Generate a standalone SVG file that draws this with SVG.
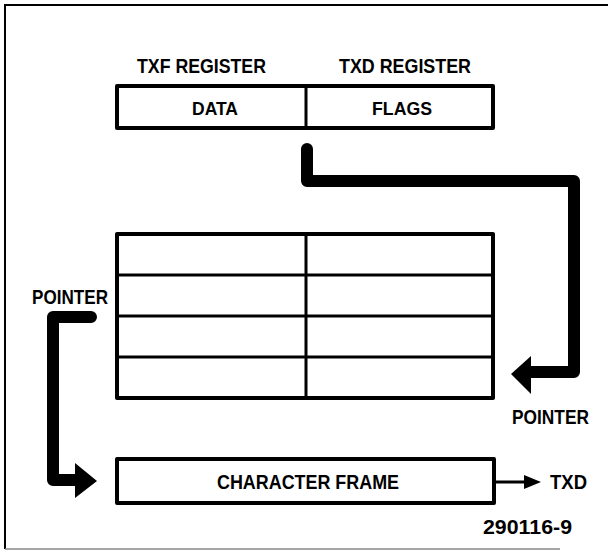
<svg xmlns="http://www.w3.org/2000/svg" width="608" height="551" viewBox="0 0 608 551">
<style>
.t{font-family:"Liberation Sans",Arial,sans-serif;font-weight:bold;font-size:20px;fill:#000}
.box{fill:#fff;stroke:#000;stroke-width:4;stroke-linejoin:round}
.div{stroke:#000;stroke-width:3;fill:none}
.thick{fill:none;stroke:#000;stroke-width:12;stroke-linejoin:round;stroke-linecap:round}
</style>
<rect width="608" height="551" fill="#fff"/>
<g id="frame" fill="none">
<path d="M5,549 V5 H608" stroke="#000" stroke-width="2"/>
<path d="M5,549 H560" stroke="#888" stroke-width="1.5"/>
</g>
<g id="registers">
<text class="t" x="137" y="73" textLength="129" lengthAdjust="spacingAndGlyphs">TXF REGISTER</text>
<text class="t" x="339" y="73" textLength="132" lengthAdjust="spacingAndGlyphs">TXD REGISTER</text>
<rect class="box" x="117" y="86" width="376" height="42"/>
<line class="div" x1="306" y1="86" x2="306" y2="128"/>
<text class="t" x="192" y="115" textLength="46" lengthAdjust="spacingAndGlyphs" style="font-size:18px">DATA</text>
<text class="t" x="372" y="115" textLength="60" lengthAdjust="spacingAndGlyphs" style="font-size:18px">FLAGS</text>
</g>
<g id="buffer">
<rect class="box" x="117" y="234" width="376" height="164"/>
<line class="div" x1="306" y1="234" x2="306" y2="398"/>
<line class="div" x1="117" y1="275" x2="493" y2="275"/>
<line class="div" x1="117" y1="316" x2="493" y2="316"/>
<line class="div" x1="117" y1="357" x2="493" y2="357"/>
</g>
<g id="charframe">
<rect class="box" x="117" y="459" width="377" height="44"/>
<text class="t" x="217" y="489" textLength="182" lengthAdjust="spacingAndGlyphs">CHARACTER FRAME</text>
</g>
<g id="labels">
<text class="t" x="32" y="304" textLength="76" lengthAdjust="spacingAndGlyphs">POINTER</text>
<text class="t" x="512" y="424" textLength="77" lengthAdjust="spacingAndGlyphs">POINTER</text>
<text class="t" x="550" y="489" textLength="37" lengthAdjust="spacingAndGlyphs">TXD</text>
<text class="t" x="483" y="534" textLength="89" lengthAdjust="spacingAndGlyphs">290116-9</text>
</g>
<g id="connectors">
<path class="thick" d="M307,149 V181 H574 V372 H528"/>
<polygon points="511,374 531,356 531,394" fill="#000"/>
<path class="thick" d="M91,317 H53 V480 H78"/>
<polygon points="75,463 97,481 75,498" fill="#000"/>
<line x1="494" y1="482" x2="528" y2="482" stroke="#000" stroke-width="3"/>
<polygon points="524,475 541,482 524,489" fill="#000"/>
</g>
</svg>
